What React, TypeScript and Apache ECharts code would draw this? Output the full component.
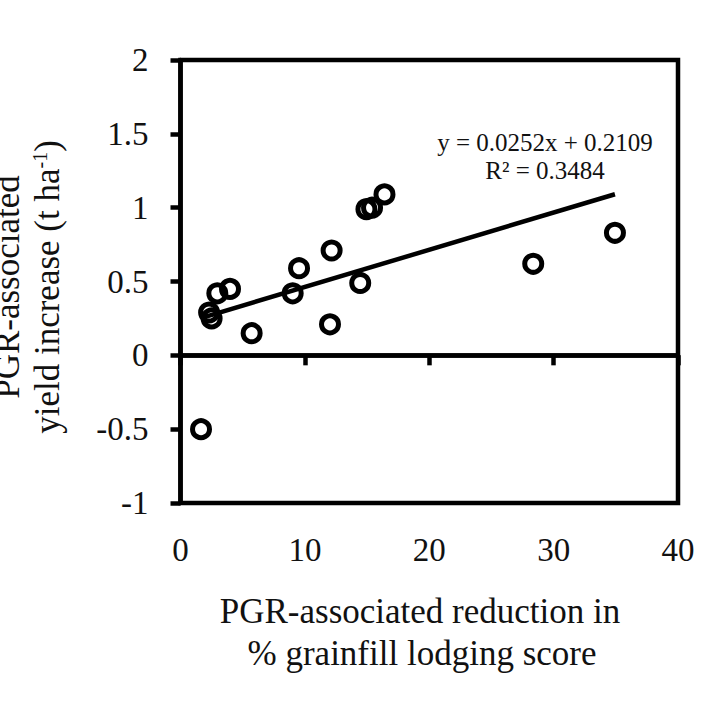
import * as echarts from 'echarts';
import { useEffect, useRef } from 'react';

// PGR-associated reduction in % grainfill lodging score
const lodgingReduction = [
  1.65, 2.3, 2.5, 2.96, 3.98, 5.72, 9.02, 9.53, 12.02, 12.15, 14.45, 14.95, 15.4, 16.4, 28.36, 34.93,
];
// PGR-associated yield increase (t/ha)
const yieldIncrease = [
  -0.5, 0.29, 0.25, 0.42, 0.45, 0.15, 0.42, 0.59, 0.21, 0.71, 0.49, 0.99, 1.0, 1.09, 0.62, 0.83,
];
// trendline ends (first / last x), y = 0.0252x + 0.2109
const trendX = [1.65, 34.93];
const trendY = [0.2525, 1.091];
const xTicks = [0, 40, 10];
const yTicks = [-1, 2, 0.5];

const FONT = '"Liberation Serif", "Times New Roman", serif';
const INK = '#111';

export default function App() {
  const container = useRef<HTMLDivElement | null>(null);

  useEffect(() => {
    if (!container.current) return;
    const chart = echarts.init(container.current, null, { renderer: 'svg' });
    chart.setOption({
      animation: false,
      backgroundColor: '#fff',
      grid: {
        left: 180.5,
        right: 42,
        top: 60,
        bottom: 217,
        show: true,
        borderColor: '#000',
        borderWidth: 4.5,
      },
      xAxis: {
        type: 'value',
        min: xTicks[0],
        max: xTicks[1],
        interval: xTicks[2],
        axisLine: { show: true, lineStyle: { color: '#000', width: 4.5 } },
        axisTick: { show: true, inside: false, length: 10, lineStyle: { color: '#000', width: 4.5 } },
        axisLabel: { margin: 30, fontFamily: FONT, fontSize: 33, color: INK },
        splitLine: { show: false },
      },
      yAxis: {
        type: 'value',
        min: yTicks[0],
        max: yTicks[1],
        interval: yTicks[2],
        axisLine: { show: true, onZero: false, lineStyle: { color: '#000', width: 4.5 } },
        axisTick: { show: true, inside: false, length: 10, lineStyle: { color: '#000', width: 4.5 } },
        axisLabel: { margin: 32, fontFamily: FONT, fontSize: 33, color: INK },
        splitLine: { show: false },
      },
      series: [
        {
          type: 'scatter',
          data: lodgingReduction.map((x, i) => [x, yieldIncrease[i]]),
          symbol: 'circle',
          symbolSize: 17,
          itemStyle: { color: 'transparent', borderColor: '#000', borderWidth: 5, opacity: 1 },
          markLine: {
            silent: true,
            symbol: 'none',
            label: { show: false },
            lineStyle: { color: '#000', width: 4.5, type: 'solid' },
            data: [{ yAxis: 0 }],
          },
          z: 3,
        },
        {
          type: 'line',
          data: trendX.map((x, i) => [x, trendY[i]]),
          symbol: 'none',
          lineStyle: { color: '#000', width: 4.5 },
          z: 2,
        },
      ],
      graphic: [
        {
          type: 'text',
          x: 7,
          y: 287,
          rotation: Math.PI / 2,
          style: {
            text: 'PGR-associated',
            font: `35px ${FONT}`,
            fill: INK,
            align: 'center',
            verticalAlign: 'middle',
          },
        },
        {
          type: 'text',
          x: 47,
          y: 287,
          rotation: Math.PI / 2,
          style: {
            text: '{n|yield increase (t ha}{s|-1}{n|)}',
            fill: INK,
            align: 'center',
            verticalAlign: 'middle',
            rich: {
              n: { fontFamily: FONT, fontSize: 35, fill: INK },
              s: { fontFamily: FONT, fontSize: 20, fill: INK, verticalAlign: 'top' },
            },
          },
        },
        {
          type: 'text',
          x: 420,
          y: 611,
          style: {
            text: 'PGR-associated reduction in',
            font: `35px ${FONT}`,
            fill: INK,
            align: 'center',
            verticalAlign: 'middle',
          },
        },
        {
          type: 'text',
          x: 422,
          y: 653,
          style: {
            text: '% grainfill lodging score',
            font: `35px ${FONT}`,
            fill: INK,
            align: 'center',
            verticalAlign: 'middle',
          },
        },
        {
          type: 'text',
          x: 545,
          y: 142,
          style: {
            text: 'y = 0.0252x + 0.2109',
            font: `25px ${FONT}`,
            fill: INK,
            align: 'center',
            verticalAlign: 'middle',
          },
        },
        {
          type: 'text',
          x: 545,
          y: 170,
          style: {
            text: 'R² = 0.3484',
            font: `25px ${FONT}`,
            fill: INK,
            align: 'center',
            verticalAlign: 'middle',
          },
        },
      ],
    } as echarts.EChartsOption);
    return () => chart.dispose();
  }, []);

  return (
    <div
      ref={container}
      style={{ position: 'fixed', left: 0, top: 0, width: 720, height: 720 }}
    />
  );
}
